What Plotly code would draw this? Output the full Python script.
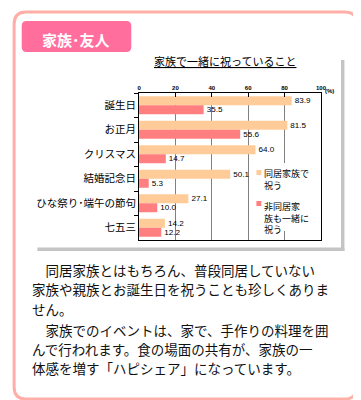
import plotly.graph_objects as go

W, H = 361, 400

categories = ["誕生日", "お正月", "クリスマス", "結婚記念日", "ひな祭り･端午の節句", "七五三"]
series_names = ["同居家族で祝う", "非同居家族も一緒に祝う"]
cohabiting = [83.9, 81.5, 64.0, 50.1, 27.1, 14.2]
non_cohabiting = [35.5, 55.6, 14.7, 5.3, 10.0, 12.2]
legend_lines = [["同居家族で", "祝う"], ["非同居家", "族も一緒に", "祝う"]]
x_ticks = [0, 20, 40, 60, 80, 100]
chart_title = "家族で一緒に祝っていること"
header = "家族･友人"
paragraph = [
    "　同居家族とはもちろん、普段同居していない",
    "家族や親族とお誕生日を祝うことも珍しくありま",
    "せん。",
    "　家族でのイベントは、家で、手作りの料理を囲",
    "んで行われます。食の場面の共有が、家族の一",
    "体感を増す「ハピシェア」になっています。",
]

C_ORANGE = "#FFCC99"
C_PINK = "#FF7F80"
JP = "Noto Sans CJK JP"


def X(px):
    return px / W


def Y(py):
    return 1 - py / H


def rrect(x0, y0, x1, y1, r):
    return (f"M{X(x0+r)},{Y(y0)} L{X(x1-r)},{Y(y0)} Q{X(x1)},{Y(y0)} {X(x1)},{Y(y0+r)} "
            f"L{X(x1)},{Y(y1-r)} Q{X(x1)},{Y(y1)} {X(x1-r)},{Y(y1)} "
            f"L{X(x0+r)},{Y(y1)} Q{X(x0)},{Y(y1)} {X(x0)},{Y(y1-r)} "
            f"L{X(x0)},{Y(y0+r)} Q{X(x0)},{Y(y0)} {X(x0+r)},{Y(y0)} Z")


fig = go.Figure()
fig.add_trace(go.Bar(y=categories, x=cohabiting, orientation="h", name=series_names[0],
                     marker=dict(color=C_ORANGE, line=dict(width=0)),
                     text=[f"{v:.1f}" for v in cohabiting], textposition="outside",
                     textfont=dict(family="Liberation Sans", size=9, color="#000"),
                     cliponaxis=False))
fig.add_trace(go.Bar(y=categories, x=non_cohabiting, orientation="h", name=series_names[1],
                     marker=dict(color=C_PINK, line=dict(width=0)),
                     text=[f"{v:.1f}" for v in non_cohabiting], textposition="outside",
                     textfont=dict(family="Liberation Sans", size=9, color="#000"),
                     cliponaxis=False))

shapes = []
# outer pink frame
shapes.append(dict(type="path", path=rrect(4.2, 4, 354.5, 391, 12), xref="paper", yref="paper",
                   line=dict(color="#FFAFA8", width=3), fillcolor="rgba(0,0,0,0)", layer="below"))
# header tab
shapes.append(dict(type="path", path=rrect(12, 13, 124, 44, 5), xref="paper", yref="paper",
                   line=dict(width=0), fillcolor="#FF6E9C", layer="below"))
# chart shadow (dotted gray)
shapes.append(dict(type="rect", x0=X(338.5), x1=X(342), y0=Y(52), y1=Y(243), xref="paper", yref="paper",
                   line=dict(width=0), fillcolor="#C4C4C4", layer="below"))
shapes.append(dict(type="rect", x0=X(28), x1=X(342), y0=Y(239.5), y1=Y(243), xref="paper", yref="paper",
                   line=dict(width=0), fillcolor="#C4C4C4", layer="below"))
# legend background
shapes.append(dict(type="rect", x0=X(249), x1=X(316.5), y0=Y(155), y1=Y(223), xref="paper", yref="paper",
                   line=dict(width=0), fillcolor="white", layer="above"))
# legend squares
for c, yc in zip([C_ORANGE, C_PINK], [164.5, 195.5]):
    shapes.append(dict(type="rect", x0=X(252), x1=X(257), y0=Y(yc - 2.5), y1=Y(yc + 2.5),
                       xref="paper", yref="paper", line=dict(width=0), fillcolor=c, layer="above"))

ann = []
ann.append(dict(text=f"<b>{header}</b>", x=X(68), y=Y(32), xref="paper", yref="paper",
                showarrow=False, font=dict(family=JP, size=15, color="white"),
                xanchor="center", yanchor="middle"))
ann.append(dict(text=f"<u>{chart_title}</u>", x=X(220), y=Y(53), xref="paper", yref="paper",
                showarrow=False, font=dict(family=JP, size=11, color="#000"),
                xanchor="center", yanchor="middle"))
ann.append(dict(text="<b>(%)</b>", x=X(320), y=Y(83), xref="paper", yref="paper",
                showarrow=False, font=dict(family="Liberation Sans", size=6, color="#000"),
                xanchor="left", yanchor="middle"))
leg_top = [158, 191]
for lines, yt in zip(legend_lines, leg_top):
    ann.append(dict(text="<br>".join(lines), x=X(259), y=Y(yt), xref="paper", yref="paper",
                    showarrow=False, font=dict(family=JP, size=9, color="#000"),
                    xanchor="left", yanchor="top", align="left", borderpad=0))
para_y = [262, 281, 300.5, 322, 341, 360]
for t, yy in zip(paragraph, para_y):
    ann.append(dict(text=t, x=X(20), y=Y(yy), xref="paper", yref="paper",
                    showarrow=False, font=dict(family=JP, size=13.5, color="#111"),
                    xanchor="left", yanchor="middle"))

fig.update_layout(
    width=W, height=H, margin=dict(l=0, r=0, t=0, b=0),
    paper_bgcolor="white", plot_bgcolor="white",
    barmode="group", bargap=0.265, bargroupgap=0,
    showlegend=False,
    shapes=shapes, annotations=ann,
    xaxis=dict(domain=[X(132), X(318)], range=[0, 100], side="top",
               tickvals=x_ticks, ticktext=[f"<b>{v}</b>" for v in x_ticks],
               tickfont=dict(family="Liberation Sans", size=6, color="#000"),
               ticks="inside", ticklen=4, tickcolor="#000",
               showgrid=True, gridcolor="#808080", gridwidth=1,
               showline=True, linecolor="#000", linewidth=1, mirror=True,
               zeroline=False, fixedrange=True),
    yaxis=dict(domain=[Y(232), Y(85)], type="category", autorange="reversed",
               tickfont=dict(family=JP, size=10.5, color="#000"),
               ticks="outside", ticklen=4, tickcolor="#000", tickson="boundaries",
               showgrid=False, showline=True, linecolor="#000", linewidth=1, mirror=True,
               fixedrange=True),
    font=dict(family=JP),
)

fig.write_html("out.html")
